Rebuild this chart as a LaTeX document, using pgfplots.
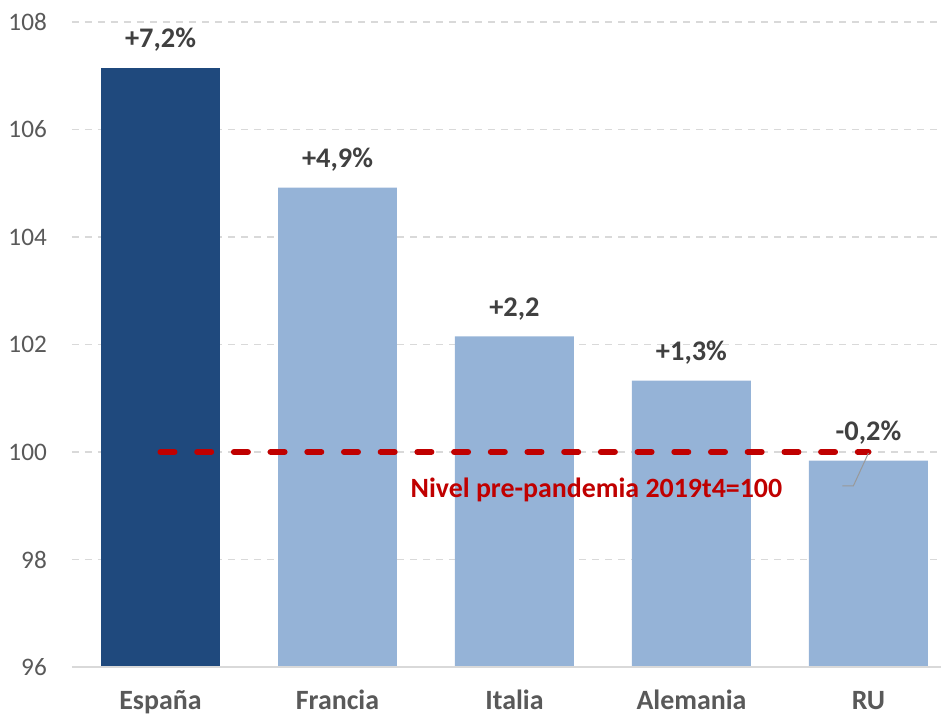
\documentclass[border=0pt]{standalone}
\usepackage{fontspec}
\setmainfont{Carlito}
\usepackage{pgfplots}
\pgfplotsset{compat=1.18}

\definecolor{navy}{RGB}{31,73,125}
\definecolor{lightblue}{RGB}{149,179,215}
\definecolor{darkred}{RGB}{192,0,0}
\definecolor{labelgray}{RGB}{64,64,64}
\definecolor{tickgray}{RGB}{89,89,89}
\definecolor{gridgray}{RGB}{217,217,217}

\begin{document}
\begin{tikzpicture}
\path[use as bounding box] (-72bp,-50bp) rectangle (869bp,667bp);
\begin{axis}[
    at={(0,0)}, anchor=south west,
    scale only axis,
    width=869bp, height=645bp,
    xmin=-0.5, xmax=4.41,
    ymin=96, ymax=108,
    ytick={96,98,...,108},
    xtick={0,1,2,3,4},
    xticklabels={España,Francia,Italia,Alemania,RU},
    major tick length=0pt,
    axis line style={draw=none},
    ymajorgrids=true,
    grid style={gridgray, line width=1.3bp, dash pattern=on 7bp off 6bp},
    /pgf/number format/assume math mode=true,
    yticklabel style={font=\fontsize{25.3}{28}\selectfont, text=tickgray,
        anchor=east, inner sep=0pt, xshift=-25bp},
    xticklabel style={font=\fontsize{28}{30}\selectfont\bfseries, text=tickgray,
        anchor=base, inner sep=0pt, yshift=-42bp},
    ybar, bar width=0.672, bar shift=0pt,
    nodes near coords,
    point meta=explicit symbolic,
    every node near coord/.append style={font=\fontsize{28.5}{30}\selectfont\bfseries,
        text=labelgray, anchor=base, inner sep=0pt, yshift=20bp},
    clip=false,
]
\addplot[fill=navy, draw=none] table[meta=lab] {
x y lab
0 107.15 {+7,2\%}
};
\addplot[fill=lightblue, draw=none] table[meta=lab] {
x y lab
1 104.92 {+4,9\%}
2 102.15 {+2,2}
3 101.33 {+1,3\%}
4 99.84 {-0,2\%}
};
\draw[gridgray, line width=1.8bp] (rel axis cs:0,0) -- (rel axis cs:1,0);
\addplot[sharp plot, nodes near coords=, darkred, line width=6bp, line cap=round,
    dash pattern=on 14bp off 22.7bp] coordinates {(0,100) (4,100)};
\draw[gray!80, line width=1bp] (axis cs:4,99.98) -- (axis cs:3.915,99.37) -- (axis cs:3.853,99.37);
\node[text=darkred, font=\fontsize{28}{30}\selectfont\bfseries, inner sep=0pt]
    at (axis cs:2.463,99.3) {Nivel pre-pandemia 2019t4=100};
\end{axis}
\end{tikzpicture}
\end{document}
